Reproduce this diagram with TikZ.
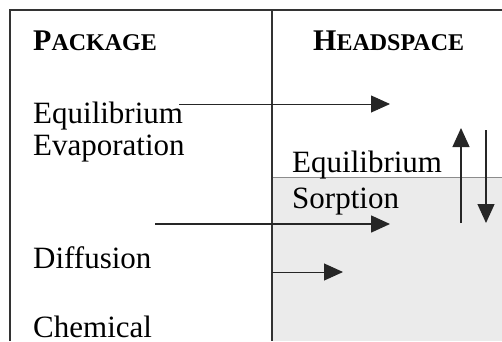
\documentclass[tikz,border=0pt]{standalone}
\usepackage{fontspec}
\setmainfont{Liberation Serif}
\usetikzlibrary{positioning,arrows.meta}

\newcommand{\hdcaps}[2]{{\fontsize{30}{34}\selectfont #1}{\fontsize{24}{28}\selectfont #2}}

\begin{document}
\begin{tikzpicture}[
			x=1pt, y=-1pt,
			>={Triangle[length=19pt,width=17pt]},
			txt/.style={
				anchor=base west,
				inner sep=0pt,
				font=\fontsize{31}{36}\selectfont
			},
			heading/.style={
				anchor=base west,
				inner sep=0pt,
				font=\bfseries
			},
			frame/.style={line width=1.2pt, black!80},
			flow/.style={->, black!85}
			]
			
			%%%%%%%%%%%%%%%%%%%%%%%%%%%%%%%%%%%%%%%%%%%%%%%%%%%%%%%%%%%%
			% Frame and Headspace Region
			%%%%%%%%%%%%%%%%%%%%%%%%%%%%%%%%%%%%%%%%%%%%%%%%%%%%%%%%%%%%
			
			\useasboundingbox (0,0) rectangle (502,341);
			
			\fill[black!8] (272,177) rectangle (502,341);
			
			\draw[black!45, line width=0.8pt] (272,177) -- (502,177);
			
			\draw[frame] (10,341) -- (10,10) -- (502,10);
			
			\draw[frame] (272,10) -- (272,341);
			
			%%%%%%%%%%%%%%%%%%%%%%%%%%%%%%%%%%%%%%%%%%%%%%%%%%%%%%%%%%%%
			% Headings
			%%%%%%%%%%%%%%%%%%%%%%%%%%%%%%%%%%%%%%%%%%%%%%%%%%%%%%%%%%%%
			
			\node (package) [heading] at (33,50) {\hdcaps{P}{ACKAGE}};
			
			\node (headspace) [heading] at (313,50) {\hdcaps{H}{EADSPACE}};
			
			%%%%%%%%%%%%%%%%%%%%%%%%%%%%%%%%%%%%%%%%%%%%%%%%%%%%%%%%%%%%
			% Package Side
			%%%%%%%%%%%%%%%%%%%%%%%%%%%%%%%%%%%%%%%%%%%%%%%%%%%%%%%%%%%%
			
			\node (equil) [txt] at (33,123) {Equilibrium};
			
			\node (evap) [txt] at (33,155) {Evaporation};
			
			\node (diff) [txt] at (33,268) {Diffusion};
			
			\node (chem) [txt] at (33,337) {Chemical};
			
			%%%%%%%%%%%%%%%%%%%%%%%%%%%%%%%%%%%%%%%%%%%%%%%%%%%%%%%%%%%%
			% Headspace Side
			%%%%%%%%%%%%%%%%%%%%%%%%%%%%%%%%%%%%%%%%%%%%%%%%%%%%%%%%%%%%
			
			\node (hequil) [txt] at (292,172) {Equilibrium};
			
			\node (sorp) [txt] at (292,208) {Sorption};
			
			%%%%%%%%%%%%%%%%%%%%%%%%%%%%%%%%%%%%%%%%%%%%%%%%%%%%%%%%%%%%
			% Arrow Ends
			%%%%%%%%%%%%%%%%%%%%%%%%%%%%%%%%%%%%%%%%%%%%%%%%%%%%%%%%%%%%
			
			\coordinate (evap-s) at (179,104);
			\coordinate (evap-e) at (390,104);
			
			\coordinate (up-s) at (461,223);
			\coordinate (up-e) at (461,128);
			
			\coordinate (down-s) at (486,130);
			\coordinate (down-e) at (486,223);
			
			\coordinate (diff-s) at (155,224);
			\coordinate (diff-e) at (390,224);
			
			\coordinate (chem-s) at (272,272);
			\coordinate (chem-e) at (343,272);
			
			%%%%%%%%%%%%%%%%%%%%%%%%%%%%%%%%%%%%%%%%%%%%%%%%%%%%%%%%%%%%
			% Connections
			%%%%%%%%%%%%%%%%%%%%%%%%%%%%%%%%%%%%%%%%%%%%%%%%%%%%%%%%%%%%
			
			% Evaporation
			
			\draw[flow, line width=0.9pt] (evap-s) -- (evap-e);
			
			% Sorption
			
			\draw[flow, line width=1.3pt] (up-s) -- (up-e);
			
			\draw[flow, line width=1.3pt] (down-s) -- (down-e);
			
			% Diffusion
			
			\draw[flow, line width=1.6pt] (diff-s) -- (diff-e);
			
			% Chemical
			
			\draw[flow, line width=1pt] (chem-s) -- (chem-e);
			
			%%%%%%%%%%%%%%%%%%%%%%%%%%%%%%%%%%%%%%%%%%%%%%%%%%%%%%%%%%%%
			
		\end{tikzpicture}
\end{document}
